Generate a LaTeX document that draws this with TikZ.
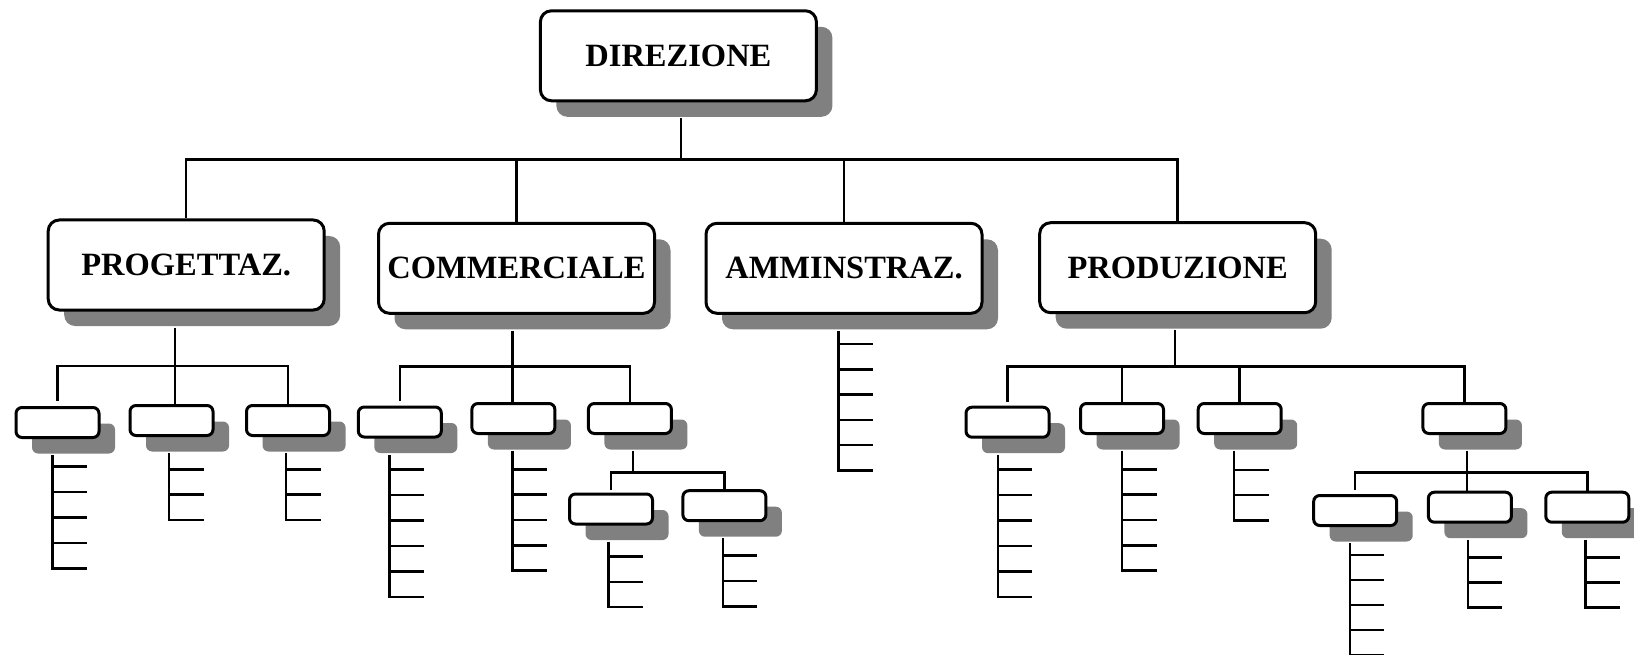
\documentclass[tikz,border=0pt]{standalone}
\usepackage{fontspec}
\setmainfont{Liberation Serif}
\usetikzlibrary{shadows}
\definecolor{shgray}{HTML}{808080}
\newcommand{\tickcol}[5]{%
  \coordinate (#1top) at ([xshift=#2pt,yshift=-16pt]#1.south);
  \draw[ln] (#1top) -- ++(0,{#4+(#3-1)*#5}) -- ++(34.5,0);
  \foreach \k in {2,...,#3} {\draw[ln] (#1top) ++(0,{#4+(\k-2)*#5}) -- ++(34.5,0);}
}
\begin{document}
\begin{tikzpicture}[x=1pt,y=-1pt,
  ln/.style={line width=2.5pt},
  shad/.style={drop shadow={shadow xshift=16pt,shadow yshift=-16pt,fill=shgray,opacity=1}},
  big/.style={shad,draw,line width=3pt,rounded corners=11pt,fill=white,
    minimum width=276pt,minimum height=90pt,inner sep=0pt,
    font=\fontsize{32.5}{36}\selectfont\bfseries},
  small/.style={shad,draw,line width=3pt,rounded corners=6pt,fill=white,
    minimum width=83pt,minimum height=30pt,inner sep=0pt}]
\useasboundingbox (0,0) rectangle (1634,655);

% top level
\node[big] (dir)  at (678.4,55.8) {DIREZIONE};
\node[big] (prog) at (186.2,265)  {PROGETTAZ.};
\node[big] (comm) at (516.5,268.3) {COMMERCIALE};
\node[big] (amm)  at (844,268.3)  {AMMINSTRAZ.};
\node[big] (prod) at (1177.7,267.7) {PRODUZIONE};

% small boxes
\node[small] (pa) at (57.5,422.5) {};
\node[small] (pb) at (171.5,420.5) {};
\node[small] (pc) at (288,420.5) {};
\node[small] (ca) at (399.8,422) {};
\node[small] (cb) at (513.4,418.5) {};
\node[small] (cc) at (629.9,418.5) {};
\node[small] (cca) at (611,509) {};
\node[small] (ccb) at (724.4,505.7) {};
\node[small] (da) at (1007.5,422.2) {};
\node[small] (db) at (1122,418.5) {};
\node[small] (dc) at (1239.7,418.5) {};
\node[small] (dd) at (1464.4,418.5) {};
\node[small] (dda) at (1355.2,510.5) {};
\node[small] (ddb) at (1469.9,507.2) {};
\node[small] (ddc) at (1587.3,507.2) {};

% buses
\coordinate (topbus) at (0,159.3);
\coordinate (pbus) at (0,366);
\coordinate (cbus) at (0,366.7);
\coordinate (dbus) at (0,366.7);
\coordinate (ccbus) at (0,472.7);
\coordinate (ddbus) at (0,472.7);

\coordinate (dirst) at ([xshift=2.6pt,yshift=-16pt]dir.south);
\draw[ln] (dirst) -- (dirst |- topbus);
\draw[ln] (prog.north) -- (prog.north |- topbus) -- (prod.north |- topbus) -- (prod.north);
\draw[ln] (comm.north) -- (comm.north |- topbus);
\draw[ln] (amm.north) -- (amm.north |- topbus);

\coordinate (progst) at ([xshift=-11.2pt,yshift=-16pt]prog.south);
\draw[ln] (progst) -- (progst |- pb.north);
\draw[ln] (pa.north |- pbus) ++(0,34.5) -- (pa.north |- pbus) -- (pc.north |- pbus) -- (pc.north);

\coordinate (commst) at ([xshift=-3.9pt,yshift=-16pt]comm.south);
\draw[ln] (commst) -- (commst |- cb.north);
\draw[ln] (ca.north |- cbus) ++(0,34.5) -- (ca.north |- cbus) -- (cc.north |- cbus) -- (cc.north);

\coordinate (ccst) at ([xshift=2.9pt,yshift=-16pt]cc.south);
\draw[ln] (ccst) -- (ccst |- ccbus);
\draw[ln] (cca.north |- ccbus) ++(0,17.3) -- (cca.north |- ccbus) -- (ccb.north |- ccbus) -- (ccb.north);

\coordinate (prodst) at ([xshift=-2.7pt,yshift=-16pt]prod.south);
\draw[ln] (prodst) -- (prodst |- dbus);
\draw[ln] (da.north |- dbus) ++(0,35) -- (da.north |- dbus) -- (dd.north |- dbus) -- (dd.north);
\draw[ln] (db.north) -- (db.north |- dbus);
\draw[ln] (dc.north) -- (dc.north |- dbus);

\coordinate (ddst) at ([xshift=2.6pt,yshift=-16pt]dd.south);
\draw[ln] (ddst) -- (ddst |- ddb.north);
\draw[ln] (dda.north |- ddbus) ++(0,17.3) -- (dda.north |- ddbus) -- (ddc.north |- ddbus) -- (ddc.north);

% tick columns
\tickcol{pa}{-5.2}{5}{11.7}{25.5}
\tickcol{pb}{-2.5}{3}{16.3}{25.3}
\tickcol{pc}{-2}{3}{16.3}{25.3}
\tickcol{ca}{-10.2}{6}{14.8}{25.5}
\tickcol{cb}{-0.8}{5}{18.3}{25.35}
\tickcol{cca}{-2.7}{3}{15.2}{25.1}
\tickcol{ccb}{-1.6}{3}{17.5}{25.3}
\tickcol{amm}{-5.7}{6}{13.2}{25.3}
\tickcol{da}{-9.7}{6}{14.6}{25.5}
\tickcol{db}{0}{5}{18.3}{25.35}
\tickcol{dc}{-5.5}{3}{19}{25.2}
\tickcol{dda}{-5.4}{5}{12}{25}
\tickcol{ddb}{-2}{3}{17.6}{25.2}
\tickcol{ddc}{-2}{3}{17.6}{25.2}
\end{tikzpicture}
\end{document}
